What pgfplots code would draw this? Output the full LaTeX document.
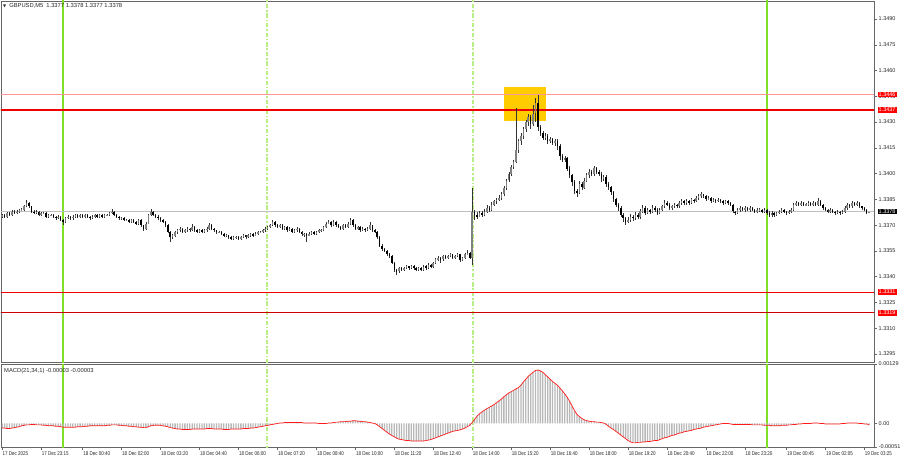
\documentclass[border=0pt]{standalone}
\usepackage{fontspec}
\setmainfont{Liberation Sans}
\newfontfamily\symf{DejaVu Sans}
\newfontfamily\narrowf[FakeStretch=0.82]{Liberation Sans}
\usepackage{pgfplots}
\usepackage{pgfplotstable}
\pgfplotsset{compat=1.18}
\definecolor{lg}{RGB}{128,224,40}
\definecolor{lgd}{RGB}{185,238,130}
\definecolor{goldbox}{RGB}{255,204,0}
\definecolor{pinkl}{RGB}{255,150,150}
\definecolor{lvlred}{RGB}{240,0,0}
\tikzset{dashg/.style={draw=lgd, line width=1.5pt, dash pattern=on 4.5pt off 1.8pt on 1.5pt off 1.8pt}}

\pgfplotstableread{
x o h l c
-25 1.3375 1.33768 1.33742 1.3376
-24 1.3376 1.33768 1.33744 1.3375
-23 1.3375 1.33778 1.33745 1.3377
-22 1.3377 1.33775 1.33752 1.3376
-21 1.3376 1.33788 1.33755 1.3378
-20 1.3378 1.33786 1.33763 1.3377
-19 1.3377 1.33788 1.33764 1.3378
-18 1.3378 1.33796 1.33774 1.3379
-17 1.3379 1.33798 1.33781 1.3379
-16 1.3379 1.33818 1.33785 1.3381
-15 1.3381 1.33845 1.33805 1.3383
-14 1.3383 1.33836 1.33803 1.3381
-13 1.3381 1.33815 1.33772 1.3378
-12 1.3378 1.33786 1.33762 1.3377
-11 1.3377 1.33788 1.33764 1.3378
-10 1.3378 1.33785 1.33752 1.3376
-9 1.3376 1.33778 1.33755 1.3377
-8 1.3377 1.33776 1.33763 1.3377
-7 1.3377 1.33775 1.33742 1.3375
-6 1.3375 1.33768 1.33744 1.3376
-5 1.3376 1.33766 1.33753 1.3376
-4 1.3376 1.33765 1.33743 1.3375
-3 1.3375 1.33756 1.33732 1.3374
-2 1.3374 1.33758 1.33735 1.3375
-1 1.3375 1.33756 1.33722 1.3373
0 1.3373 1.33735 1.33700 1.3372
1 1.3372 1.33748 1.33715 1.3374
2 1.3374 1.33758 1.33735 1.3375
3 1.3375 1.33756 1.33732 1.3374
4 1.3374 1.33758 1.33733 1.3375
5 1.3375 1.33768 1.33744 1.3376
6 1.3376 1.33765 1.33742 1.3375
7 1.3375 1.33768 1.33745 1.3376
8 1.3376 1.33766 1.33743 1.3375
9 1.3375 1.33767 1.33744 1.3376
10 1.3376 1.33765 1.33742 1.3375
11 1.3375 1.33756 1.33733 1.3374
12 1.3374 1.33758 1.33734 1.3375
13 1.3375 1.33768 1.33745 1.3376
14 1.3376 1.33766 1.33742 1.3375
15 1.3375 1.33768 1.33744 1.3376
16 1.3376 1.33765 1.33743 1.3375
17 1.3375 1.33767 1.33744 1.3376
18 1.3376 1.33768 1.33753 1.3376
19 1.3376 1.33778 1.33755 1.3377
20 1.3377 1.33792 1.33764 1.3378
21 1.3378 1.33785 1.33752 1.3376
22 1.3376 1.33766 1.33742 1.3375
23 1.3375 1.33756 1.33732 1.3374
24 1.3374 1.33748 1.33733 1.3374
25 1.3374 1.33745 1.33722 1.3373
26 1.3373 1.33738 1.33724 1.3373
27 1.3373 1.33736 1.33712 1.3372
28 1.3372 1.33738 1.33714 1.3373
29 1.3373 1.33735 1.33712 1.3372
30 1.3372 1.33726 1.33702 1.3371
31 1.3371 1.33738 1.33705 1.3373
32 1.3373 1.33735 1.33692 1.3370
33 1.3370 1.33705 1.33668 1.3368
34 1.3368 1.33718 1.33675 1.3371
35 1.3371 1.33768 1.33705 1.3376
36 1.3376 1.33795 1.33755 1.3378
37 1.3378 1.33785 1.33752 1.3376
38 1.3376 1.33765 1.33742 1.3375
39 1.3375 1.33758 1.33732 1.3374
40 1.3374 1.33746 1.33722 1.3373
41 1.3373 1.33738 1.33712 1.3372
42 1.3372 1.33725 1.33692 1.3370
43 1.3370 1.33705 1.33652 1.3366
44 1.3366 1.33668 1.33605 1.3363
45 1.3363 1.33648 1.33622 1.3364
46 1.3364 1.33668 1.33634 1.3366
47 1.3366 1.33678 1.33652 1.3367
48 1.3367 1.33688 1.33663 1.3368
49 1.3368 1.33686 1.33652 1.3366
50 1.3366 1.33678 1.33653 1.3367
51 1.3367 1.33688 1.33662 1.3368
52 1.3368 1.33685 1.33662 1.3367
53 1.3367 1.33705 1.33664 1.3369
54 1.3369 1.33695 1.33663 1.3367
55 1.3367 1.33676 1.33652 1.3366
56 1.3366 1.33678 1.33655 1.3367
57 1.3367 1.33676 1.33652 1.3366
58 1.3366 1.33678 1.33654 1.3367
59 1.3367 1.33688 1.33663 1.3368
60 1.3368 1.33712 1.33674 1.3370
61 1.3370 1.33705 1.33673 1.3368
62 1.3368 1.33686 1.33662 1.3367
63 1.3367 1.33675 1.33652 1.3366
64 1.3366 1.33668 1.33653 1.3366
65 1.3366 1.33666 1.33642 1.3365
66 1.3365 1.33656 1.33632 1.3364
67 1.3364 1.33648 1.33633 1.3364
68 1.3364 1.33645 1.33622 1.3363
69 1.3363 1.33636 1.33612 1.3362
70 1.3362 1.33638 1.33614 1.3363
71 1.3363 1.33638 1.33622 1.3363
72 1.3363 1.33636 1.33612 1.3362
73 1.3362 1.33638 1.33614 1.3363
74 1.3363 1.33648 1.33624 1.3364
75 1.3364 1.33645 1.33622 1.3363
76 1.3363 1.33648 1.33624 1.3364
77 1.3364 1.33658 1.33633 1.3365
78 1.3365 1.33656 1.33632 1.3364
79 1.3364 1.33658 1.33634 1.3365
80 1.3365 1.33668 1.33643 1.3366
81 1.3366 1.33668 1.33652 1.3366
82 1.3366 1.33678 1.33654 1.3367
83 1.3367 1.33688 1.33663 1.3368
84 1.3368 1.33698 1.33674 1.3369
85 1.3369 1.33708 1.33683 1.3370
86 1.3370 1.33728 1.33694 1.3372
87 1.3372 1.33725 1.33692 1.3370
88 1.3370 1.33706 1.33682 1.3369
89 1.3369 1.33708 1.33684 1.3370
90 1.3370 1.33705 1.33672 1.3368
91 1.3368 1.33698 1.33674 1.3369
92 1.3369 1.33695 1.33662 1.3367
93 1.3367 1.33688 1.33664 1.3368
94 1.3368 1.33686 1.33652 1.3366
95 1.3366 1.33678 1.33654 1.3367
96 1.3367 1.33688 1.33663 1.3368
97 1.3368 1.33685 1.33652 1.3366
98 1.3366 1.33665 1.33638 1.3365
99 1.3365 1.33658 1.33632 1.3365
100 1.3365 1.33655 1.33602 1.3364
101 1.3364 1.33658 1.33634 1.3365
102 1.3365 1.33668 1.33643 1.3366
103 1.3366 1.33665 1.33642 1.3365
104 1.3365 1.33668 1.33644 1.3366
105 1.3366 1.33678 1.33654 1.3367
106 1.3367 1.33678 1.33662 1.3367
107 1.3367 1.33698 1.33664 1.3369
108 1.3369 1.33718 1.33683 1.3371
109 1.3371 1.33728 1.33704 1.3372
110 1.3372 1.33725 1.33692 1.3370
111 1.3370 1.33728 1.33694 1.3372
112 1.3372 1.33725 1.33692 1.3370
113 1.3370 1.33705 1.33682 1.3369
114 1.3369 1.33695 1.33672 1.3368
115 1.3368 1.33708 1.33674 1.3370
116 1.3370 1.33705 1.33682 1.3369
117 1.3369 1.33718 1.33684 1.3371
118 1.3371 1.33742 1.33704 1.3373
119 1.3373 1.33735 1.33692 1.3370
120 1.3370 1.33706 1.33672 1.3368
121 1.3368 1.33698 1.33674 1.3369
122 1.3369 1.33695 1.33662 1.3367
123 1.3367 1.33688 1.33664 1.3368
124 1.3368 1.33686 1.33662 1.3367
125 1.3367 1.33688 1.33664 1.3368
126 1.3368 1.33718 1.33674 1.3370
127 1.3370 1.33705 1.33662 1.3367
128 1.3367 1.33676 1.33652 1.3366
129 1.3366 1.33665 1.33622 1.3363
130 1.3363 1.33636 1.33572 1.3358
131 1.3358 1.33588 1.33552 1.3356
132 1.3356 1.33568 1.33542 1.3355
133 1.3355 1.33556 1.33522 1.3353
134 1.3353 1.33538 1.33512 1.3352
135 1.3352 1.33525 1.33472 1.3348
136 1.3348 1.33485 1.33428 1.3344
137 1.3344 1.33448 1.33408 1.3343
138 1.3343 1.33458 1.33424 1.3345
139 1.3345 1.33456 1.33432 1.3344
140 1.3344 1.33458 1.33434 1.3345
141 1.3345 1.33468 1.33443 1.3346
142 1.3346 1.33465 1.33442 1.3345
143 1.3345 1.33468 1.33444 1.3346
144 1.3346 1.33466 1.33442 1.3345
145 1.3345 1.33456 1.33432 1.3344
146 1.3344 1.33458 1.33434 1.3345
147 1.3345 1.33456 1.33432 1.3344
148 1.3344 1.33468 1.33434 1.3346
149 1.3346 1.33466 1.33442 1.3345
150 1.3345 1.33478 1.33444 1.3347
151 1.3347 1.33475 1.33452 1.3346
152 1.3346 1.33488 1.33454 1.3348
153 1.3348 1.33508 1.33474 1.3350
154 1.3350 1.33518 1.33493 1.3351
155 1.3351 1.33515 1.33482 1.3350
156 1.3350 1.33528 1.33494 1.3352
157 1.3352 1.33525 1.33502 1.3351
158 1.3351 1.33528 1.33504 1.3352
159 1.3352 1.33538 1.33514 1.3353
160 1.3353 1.33535 1.33502 1.3351
161 1.3351 1.33528 1.33504 1.3352
162 1.3352 1.33538 1.33513 1.3353
163 1.3353 1.33535 1.33488 1.3350
164 1.3350 1.33518 1.33494 1.3351
165 1.3351 1.33538 1.33504 1.3353
166 1.3353 1.33555 1.33524 1.3354
167 1.3354 1.33545 1.33502 1.3351
168 1.3351 1.33920 1.33470 1.3378
169 1.3378 1.33790 1.33730 1.3376
170 1.3376 1.33775 1.33735 1.3375
171 1.3375 1.33785 1.33745 1.3377
172 1.3377 1.33780 1.33745 1.3376
173 1.3376 1.33795 1.33755 1.3378
174 1.3378 1.33815 1.33770 1.3380
175 1.3380 1.33810 1.33775 1.3379
176 1.3379 1.33835 1.33780 1.3382
177 1.3382 1.33850 1.33810 1.3384
178 1.3384 1.33860 1.33825 1.3385
179 1.3385 1.33875 1.33840 1.3386
180 1.3386 1.33895 1.33850 1.3388
181 1.3388 1.33930 1.33870 1.3392
182 1.3392 1.33970 1.33905 1.3396
183 1.3396 1.34010 1.33950 1.3400
184 1.3400 1.34050 1.33985 1.3404
185 1.3404 1.34080 1.34025 1.3407
186 1.3407 1.34385 1.34060 1.3414
187 1.3414 1.34200 1.34120 1.3419
188 1.3419 1.34235 1.34170 1.3422
189 1.3422 1.34270 1.34200 1.3426
190 1.3426 1.34310 1.34245 1.3430
191 1.3430 1.34345 1.34280 1.3433
192 1.3433 1.34340 1.34260 1.3429
193 1.3429 1.34400 1.34275 1.3435
194 1.3435 1.34440 1.34300 1.3441
195 1.3441 1.34460 1.34250 1.3427
196 1.3427 1.34285 1.34220 1.3424
197 1.3424 1.34250 1.34195 1.3421
198 1.3421 1.34235 1.34195 1.3422
199 1.3422 1.34230 1.34175 1.3419
200 1.3419 1.34215 1.34180 1.3420
201 1.3420 1.34210 1.34165 1.3418
202 1.3418 1.34205 1.34160 1.3419
203 1.3419 1.34200 1.34140 1.3416
204 1.3416 1.34170 1.34080 1.3410
205 1.3410 1.34115 1.34065 1.3408
206 1.3408 1.34105 1.34070 1.3409
207 1.3409 1.34095 1.34015 1.3403
208 1.3403 1.34045 1.33975 1.3399
209 1.3399 1.34000 1.33930 1.3395
210 1.3395 1.33965 1.33880 1.3390
211 1.3390 1.33910 1.33865 1.3389
212 1.3389 1.33955 1.33880 1.3394
213 1.3394 1.33950 1.33905 1.3392
214 1.3392 1.33975 1.33910 1.3396
215 1.3396 1.34005 1.33950 1.3399
216 1.3399 1.34025 1.33975 1.3401
217 1.3401 1.34020 1.33985 1.3400
218 1.3400 1.34045 1.33990 1.3403
219 1.3403 1.34040 1.34000 1.3401
220 1.3401 1.34020 1.33985 1.3400
221 1.3400 1.34010 1.33955 1.3397
222 1.3397 1.33995 1.33960 1.3398
223 1.3398 1.33990 1.33925 1.3394
224 1.3394 1.33950 1.33905 1.3392
225 1.3392 1.33930 1.33875 1.3389
226 1.3389 1.33900 1.33835 1.3385
227 1.3385 1.33860 1.33805 1.3382
228 1.3382 1.33830 1.33785 1.3380
229 1.3380 1.33810 1.33745 1.3376
230 1.3376 1.33770 1.33720 1.3374
231 1.3374 1.33750 1.33700 1.3372
232 1.3372 1.33745 1.33710 1.3373
233 1.3373 1.33765 1.33720 1.3375
234 1.3375 1.33760 1.33725 1.3374
235 1.3374 1.33775 1.33730 1.3376
236 1.3376 1.33770 1.33735 1.3375
237 1.3375 1.33795 1.33740 1.3378
238 1.3378 1.33815 1.33770 1.3380
239 1.3380 1.33810 1.33760 1.3377
240 1.3377 1.33800 1.33765 1.3379
241 1.3379 1.33795 1.33765 1.3378
242 1.3378 1.33815 1.33770 1.3380
243 1.3380 1.33810 1.33780 1.3379
244 1.3379 1.33800 1.33760 1.3377
245 1.3377 1.33800 1.33765 1.3379
246 1.3379 1.33820 1.33780 1.3381
247 1.3381 1.33845 1.33800 1.3383
248 1.3383 1.33840 1.33810 1.3382
249 1.3382 1.33830 1.33790 1.3380
250 1.3380 1.33820 1.33790 1.3381
251 1.3381 1.33830 1.33800 1.3382
252 1.3382 1.33825 1.33800 1.3381
253 1.3381 1.33840 1.33800 1.3383
254 1.3383 1.33850 1.33820 1.3384
255 1.3384 1.33845 1.33820 1.3383
256 1.3383 1.33850 1.33820 1.3384
257 1.3384 1.33845 1.33820 1.3383
258 1.3383 1.33860 1.33825 1.3385
259 1.3385 1.33855 1.33830 1.3384
260 1.3384 1.33870 1.33835 1.3386
261 1.3386 1.33880 1.33850 1.3387
262 1.3387 1.33890 1.33860 1.3388
263 1.3388 1.33885 1.33860 1.3387
264 1.3387 1.33875 1.33840 1.3385
265 1.3385 1.33870 1.33845 1.3386
266 1.3386 1.33865 1.33830 1.3384
267 1.3384 1.33860 1.33835 1.3385
268 1.3385 1.33855 1.33830 1.3384
269 1.3384 1.33860 1.33835 1.3385
270 1.3385 1.33855 1.33830 1.3384
271 1.3384 1.33845 1.33820 1.3383
272 1.3383 1.33850 1.33825 1.3384
273 1.3384 1.33845 1.33820 1.3383
274 1.3383 1.33835 1.33810 1.3382
275 1.3382 1.33825 1.33770 1.3378
276 1.3378 1.33785 1.33760 1.3377
277 1.3377 1.33800 1.33765 1.3379
278 1.3379 1.33810 1.33780 1.3380
279 1.3380 1.33805 1.33780 1.3379
280 1.3379 1.33810 1.33780 1.3380
281 1.3380 1.33805 1.33780 1.3379
282 1.3379 1.33810 1.33780 1.3380
283 1.3380 1.33805 1.33780 1.3379
284 1.3379 1.33795 1.33770 1.3378
285 1.3378 1.33800 1.33770 1.3379
286 1.3379 1.33800 1.33780 1.3379
287 1.3379 1.33795 1.33770 1.3378
288 1.3378 1.33800 1.33770 1.3379
289 1.3379 1.33795 1.33760 1.3377
290 1.3377 1.33780 1.33750 1.3376
291 1.3376 1.33780 1.33750 1.3377
292 1.3377 1.33775 1.33750 1.3376
293 1.3376 1.33780 1.33755 1.3377
294 1.3377 1.33790 1.33765 1.3378
295 1.3378 1.33800 1.33770 1.3379
296 1.3379 1.33795 1.33770 1.3378
297 1.3378 1.33785 1.33760 1.3377
298 1.3377 1.33790 1.33765 1.3378
299 1.3378 1.33800 1.33770 1.3379
300 1.3379 1.33830 1.33785 1.3382
301 1.3382 1.33840 1.33810 1.3383
302 1.3383 1.33835 1.33810 1.3382
303 1.3382 1.33840 1.33810 1.3383
304 1.3383 1.33835 1.33810 1.3382
305 1.3382 1.33830 1.33810 1.3382
306 1.3382 1.33840 1.33810 1.3383
307 1.3383 1.33835 1.33810 1.3382
308 1.3382 1.33840 1.33810 1.3383
309 1.3383 1.33835 1.33810 1.3382
310 1.3382 1.33860 1.33815 1.3384
311 1.3384 1.33845 1.33810 1.3382
312 1.3382 1.33825 1.33790 1.3380
313 1.3380 1.33805 1.33780 1.3379
314 1.3379 1.33795 1.33770 1.3378
315 1.3378 1.33800 1.33770 1.3379
316 1.3379 1.33795 1.33770 1.3378
317 1.3378 1.33785 1.33760 1.3377
318 1.3377 1.33790 1.33765 1.3378
319 1.3378 1.33785 1.33760 1.3377
320 1.3377 1.33790 1.33765 1.3378
321 1.3378 1.33810 1.33770 1.3380
322 1.3380 1.33830 1.33790 1.3382
323 1.3382 1.33825 1.33800 1.3381
324 1.3381 1.33840 1.33800 1.3383
325 1.3383 1.33835 1.33810 1.3382
326 1.3382 1.33840 1.33810 1.3383
327 1.3383 1.33835 1.33800 1.3381
328 1.3381 1.33815 1.33790 1.3380
329 1.3380 1.33805 1.33780 1.3379
330 1.3379 1.33795 1.33765 1.3377
331 1.3377 1.33780 1.33770 1.3378
}\candles

\pgfplotstableread[row sep=\\]{
x m\\
-25 -0.00010\\ -24 -0.00010\\ -23 -0.00011\\ -22 -0.00011\\ -21 -0.00010\\ -20 -0.00009\\ -19 -0.00008\\ -18 -0.00007\\
-17 -0.00005\\ -16 -0.00004\\ -15 -0.00003\\ -14 -0.00003\\ -13 -0.00002\\ -12 -0.00002\\ -11 -0.00003\\ -10 -0.00003\\ -9 -0.00003\\ -8 -0.00004\\
-7 -0.00004\\ -6 -0.00005\\ -5 -0.00005\\ -4 -0.00005\\ -3 -0.00006\\ -2 -0.00006\\ -1 -0.00007\\ 0 -0.00008\\
1 -0.00008\\ 2 -0.00008\\ 3 -0.00008\\ 4 -0.00008\\ 5 -0.00008\\ 6 -0.00007\\ 7 -0.00007\\ 8 -0.00007\\ 9 -0.00006\\ 10 -0.00006\\
11 -0.00005\\ 12 -0.00005\\ 13 -0.00005\\ 14 -0.00005\\ 15 -0.00005\\ 16 -0.00005\\ 17 -0.00005\\ 18 -0.00004\\ 19 -0.00004\\ 20 -0.00003\\
21 -0.00003\\ 22 -0.00003\\ 23 -0.00004\\ 24 -0.00004\\ 25 -0.00005\\ 26 -0.00005\\ 27 -0.00006\\ 28 -0.00006\\ 29 -0.00007\\ 30 -0.00007\\
31 -0.00008\\ 32 -0.00008\\ 33 -0.00009\\ 34 -0.00009\\ 35 -0.00007\\ 36 -0.00005\\ 37 -0.00004\\ 38 -0.00004\\ 39 -0.00004\\ 40 -0.00004\\
41 -0.00005\\ 42 -0.00006\\ 43 -0.00007\\ 44 -0.00009\\ 45 -0.00010\\ 46 -0.00011\\ 47 -0.00012\\ 48 -0.00012\\ 49 -0.00013\\ 50 -0.00013\\
51 -0.00013\\ 52 -0.00013\\ 53 -0.00012\\ 54 -0.00012\\ 55 -0.00012\\ 56 -0.00012\\ 57 -0.00012\\ 58 -0.00012\\ 59 -0.00011\\ 60 -0.00011\\
61 -0.00011\\ 62 -0.00012\\ 63 -0.00012\\ 64 -0.00012\\ 65 -0.00012\\ 66 -0.00013\\ 67 -0.00013\\ 68 -0.00013\\ 69 -0.00012\\ 70 -0.00012\\
71 -0.00012\\ 72 -0.00012\\ 73 -0.00012\\ 74 -0.00011\\ 75 -0.00011\\ 76 -0.00011\\ 77 -0.00010\\ 78 -0.00010\\ 79 -0.00009\\ 80 -0.00008\\
81 -0.00007\\ 82 -0.00006\\ 83 -0.00005\\ 84 -0.00004\\ 85 -0.00003\\ 86 -0.00002\\ 87 -0.00001\\ 88 0.00000\\ 89 0.00001\\ 90 0.00001\\
91 0.00002\\ 92 0.00002\\ 93 0.00002\\ 94 0.00002\\ 95 0.00002\\ 96 0.00002\\ 97 0.00002\\ 98 0.00002\\ 99 0.00001\\ 100 0.00001\\
101 0.00001\\ 102 0.00001\\ 103 0.00001\\ 104 0.00001\\ 105 0.00000\\ 106 0.00000\\ 107 0.00000\\ 108 0.00000\\ 109 0.00001\\ 110 0.00001\\
111 0.00002\\ 112 0.00003\\ 113 0.00003\\ 114 0.00004\\ 115 0.00004\\ 116 0.00004\\ 117 0.00005\\ 118 0.00005\\ 119 0.00006\\ 120 0.00006\\
121 0.00005\\ 122 0.00005\\ 123 0.00004\\ 124 0.00004\\ 125 0.00003\\ 126 0.00002\\ 127 0.00001\\ 128 0.00000\\ 129 -0.00003\\ 130 -0.00007\\
131 -0.00011\\ 132 -0.00015\\ 133 -0.00019\\ 134 -0.00023\\ 135 -0.00026\\ 136 -0.00029\\ 137 -0.00032\\ 138 -0.00034\\ 139 -0.00035\\ 140 -0.00036\\
141 -0.00037\\ 142 -0.00037\\ 143 -0.00038\\ 144 -0.00038\\ 145 -0.00038\\ 146 -0.00038\\ 147 -0.00038\\ 148 -0.00038\\ 149 -0.00037\\ 150 -0.00036\\
151 -0.00035\\ 152 -0.00033\\ 153 -0.00031\\ 154 -0.00029\\ 155 -0.00027\\ 156 -0.00025\\ 157 -0.00023\\ 158 -0.00021\\ 159 -0.00019\\ 160 -0.00017\\
161 -0.00016\\ 162 -0.00015\\ 163 -0.00014\\ 164 -0.00012\\ 165 -0.00010\\ 166 -0.00007\\ 167 -0.00004\\ 168 0.00002\\ 169 0.00009\\ 170 0.00016\\
171 0.00021\\ 172 0.00025\\ 173 0.00029\\ 174 0.00032\\ 175 0.00035\\ 176 0.00038\\ 177 0.00041\\ 178 0.00045\\ 179 0.00049\\ 180 0.00053\\
181 0.00058\\ 182 0.00062\\ 183 0.00066\\ 184 0.00069\\ 185 0.00072\\ 186 0.00075\\ 187 0.00078\\ 188 0.00083\\ 189 0.00090\\ 190 0.00096\\
191 0.00102\\ 192 0.00107\\ 193 0.00111\\ 194 0.00115\\ 195 0.00116\\ 196 0.00114\\ 197 0.00111\\ 198 0.00106\\ 199 0.00101\\ 200 0.00096\\
201 0.00091\\ 202 0.00087\\ 203 0.00083\\ 204 0.00077\\ 205 0.00071\\ 206 0.00064\\ 207 0.00057\\ 208 0.00048\\ 209 0.00038\\ 210 0.00028\\
211 0.00020\\ 212 0.00015\\ 213 0.00011\\ 214 0.00008\\ 215 0.00006\\ 216 0.00005\\ 217 0.00004\\ 218 0.00004\\ 219 0.00003\\ 220 0.00003\\
221 0.00002\\ 222 0.00001\\ 223 -0.00002\\ 224 -0.00006\\ 225 -0.00010\\ 226 -0.00013\\ 227 -0.00017\\ 228 -0.00021\\ 229 -0.00025\\ 230 -0.00029\\
231 -0.00033\\ 232 -0.00037\\ 233 -0.00040\\ 234 -0.00042\\ 235 -0.00042\\ 236 -0.00041\\ 237 -0.00041\\ 238 -0.00040\\ 239 -0.00040\\ 240 -0.00039\\
241 -0.00039\\ 242 -0.00038\\ 243 -0.00037\\ 244 -0.00037\\ 245 -0.00035\\ 246 -0.00033\\ 247 -0.00031\\ 248 -0.00030\\ 249 -0.00028\\ 250 -0.00026\\
251 -0.00025\\ 252 -0.00023\\ 253 -0.00021\\ 254 -0.00020\\ 255 -0.00018\\ 256 -0.00017\\ 257 -0.00016\\ 258 -0.00015\\ 259 -0.00013\\ 260 -0.00012\\
261 -0.00011\\ 262 -0.00010\\ 263 -0.00008\\ 264 -0.00007\\ 265 -0.00006\\ 266 -0.00005\\ 267 -0.00004\\ 268 -0.00003\\ 269 -0.00002\\ 270 -0.00001\\
271 0.00000\\ 272 0.00000\\ 273 0.00000\\ 274 -0.00001\\ 275 -0.00002\\ 276 -0.00002\\ 277 -0.00002\\ 278 -0.00002\\ 279 -0.00002\\ 280 -0.00002\\
281 -0.00002\\ 282 -0.00002\\ 283 -0.00003\\ 284 -0.00003\\ 285 -0.00003\\ 286 -0.00003\\ 287 -0.00003\\ 288 -0.00004\\ 289 -0.00004\\ 290 -0.00004\\
291 -0.00005\\ 292 -0.00005\\ 293 -0.00005\\ 294 -0.00005\\ 295 -0.00004\\ 296 -0.00004\\ 297 -0.00004\\ 298 -0.00003\\ 299 -0.00003\\ 300 -0.00002\\
301 -0.00002\\ 302 -0.00001\\ 303 -0.00001\\ 304 0.00000\\ 305 0.00000\\ 306 0.00000\\ 307 0.00000\\ 308 0.00001\\ 309 0.00001\\ 310 0.00001\\
311 0.00000\\ 312 0.00000\\ 313 -0.00001\\ 314 -0.00001\\ 315 -0.00001\\ 316 -0.00001\\ 317 -0.00001\\ 318 -0.00001\\ 319 -0.00001\\ 320 0.00000\\
321 0.00000\\ 322 0.00001\\ 323 0.00001\\ 324 0.00001\\ 325 0.00001\\ 326 0.00001\\ 327 0.00000\\ 328 0.00000\\ 329 -0.00001\\ 330 -0.00001\\
331 -0.00003\\
}\macd

\newcommand{\tf}{\fontsize{5.5}{6}\selectfont}
\newcommand{\xf}{\narrowf\fontsize{5.5}{6}\selectfont}

\begin{document}
\begin{tikzpicture}
\path[use as bounding box] (0pt,0pt) rectangle (900pt,-460pt);
\pgfplotsset{
  mtstyle/.style={
    scale only axis, anchor=north west, width=873pt,
    xmin=-25.5, xmax=333,
    axis line style={black!60, line width=0.5pt},
    tick align=outside, major tick length=3pt,
    tick style={black!60, line width=0.4pt},
    ticklabel style={font=\tf, text=black!85},
    ytick pos=right, yticklabel pos=right,
    scaled y ticks=false,
    yticklabel style={anchor=west, inner xsep=1.5pt},
  },
}
\begin{axis}[mtstyle, at={(1pt,-1pt)}, height=361pt,
  ymin=1.32903, ymax=1.35005,
  xtick=\empty,
  ytick={1.3295,1.3310,1.3325,1.3340,1.3355,1.3370,1.3385,1.3400,1.3415,1.3430,1.3445,1.3460,1.3475,1.3490},
  yticklabel style={/pgf/number format/.cd, fixed, fixed zerofill, precision=4, assume math mode=true},
]
\fill[goldbox] (axis cs:181.1,1.34504) rectangle (axis cs:198.4,1.34306);
\draw[lg, line width=1.5pt] (axis cs:0,1.32) -- (axis cs:0,1.36);
\draw[lg, line width=1.5pt] (axis cs:289.1,1.32) -- (axis cs:289.1,1.36);
\draw[dashg] (axis cs:83.8,1.32) -- (axis cs:83.8,1.36);
\draw[dashg] (axis cs:168.4,1.32) -- (axis cs:168.4,1.36);
\draw[pinkl, line width=0.9pt] (axis cs:-30,1.3446) -- (axis cs:340,1.3446);
\draw[lvlred, line width=1.15pt] (axis cs:-30,1.3437) -- (axis cs:340,1.3437);
\draw[lvlred, line width=1.15pt] (axis cs:-30,1.3331) -- (axis cs:340,1.3331);
\draw[red!80!black, line width=0.7pt] (axis cs:-30,1.3319) -- (axis cs:340,1.3319);
\draw[black!25, line width=0.5pt] (axis cs:-30,1.3378) -- (axis cs:340,1.3378);
% wicks
\addplot[draw=none, mark=none, error bars/.cd, y dir=both, y explicit, error mark=none,
  error bar style={draw=black!80, solid, line width=0.45pt}]
  table[x=x, y expr={(\thisrow{h}+\thisrow{l})/2}, y error expr={(\thisrow{h}-\thisrow{l})/2}] {\candles};
% bull bodies
\addplot[draw=none, mark=none, restrict expr to domain={\thisrow{c}-\thisrow{o}}{0:1},
  error bars/.cd, y dir=both, y explicit, error mark=none,
  error bar style={draw=black!50, solid, line width=1.5pt}]
  table[x=x, y expr={(\thisrow{o}+\thisrow{c})/2}, y error expr={max(abs(\thisrow{c}-\thisrow{o})/2,0.00002)}] {\candles};
% bear bodies
\addplot[draw=none, mark=none, restrict expr to domain={\thisrow{c}-\thisrow{o}}{-1:-0.000001},
  error bars/.cd, y dir=both, y explicit, error mark=none,
  error bar style={draw=black, solid, line width=1.5pt}]
  table[x=x, y expr={(\thisrow{o}+\thisrow{c})/2}, y error expr={max(abs(\thisrow{c}-\thisrow{o})/2,0.00002)}] {\candles};
\coordinate (Pa) at (axis cs:333,1.3446);
\coordinate (Pb) at (axis cs:333,1.3437);
\coordinate (Pc) at (axis cs:333,1.3378);
\coordinate (Pd) at (axis cs:333,1.3331);
\coordinate (Pe) at (axis cs:333,1.3319);
\end{axis}

\begin{axis}[mtstyle, at={(1pt,-364pt)}, height=83pt,
  ymin=-0.00051, ymax=0.00129,
  ytick={-0.00051,0,0.00129}, yticklabels={-0.00051,0.00,0.00129},
  xtick pos=left,
  xtick={-25.1,-9,8,24,40,56,72,88,104,120,136,152,168,184,200,216,232,248,264,280,297,313,329},
  xticklabels={17 Dec 2025,17 Dec 23:15,18 Dec 00:40,18 Dec 02:00,18 Dec 03:20,18 Dec 04:40,18 Dec 06:00,18 Dec 07:20,18 Dec 08:40,18 Dec 10:00,18 Dec 11:20,18 Dec 12:40,18 Dec 14:00,18 Dec 15:20,18 Dec 16:40,18 Dec 18:00,18 Dec 19:20,18 Dec 20:40,18 Dec 22:00,18 Dec 23:20,19 Dec 00:45,19 Dec 02:05,19 Dec 03:25},
  xticklabel style={anchor=north west, inner xsep=0.5pt, inner ysep=1pt, font=\xf},
]
\draw[lg, line width=1.5pt] (axis cs:0,-0.001) -- (axis cs:0,0.002);
\draw[lg, line width=1.5pt] (axis cs:289.1,-0.001) -- (axis cs:289.1,0.002);
\draw[dashg] (axis cs:83.8,-0.001) -- (axis cs:83.8,0.002);
\draw[dashg] (axis cs:168.4,-0.001) -- (axis cs:168.4,0.002);
\addplot[ybar, bar width=1.3pt, fill=black!28, draw=none] table[x=x, y=m] {\macd};
\addplot[red!90, line width=0.7pt, mark=none] table[x=x, y=m] {\macd};
\end{axis}

\foreach \p/\t/\c in {Pa/1.3446/red, Pb/1.3437/red, Pc/1.3378/black, Pd/1.3331/red, Pe/1.3319/red}{
  \node[fill=\c, text=white, anchor=west, inner xsep=1pt, inner ysep=0.9pt, font=\tf] at ([xshift=3.5pt]\p) {\t};
}
\node[anchor=west, inner sep=0pt, font=\fontsize{5.8}{6.5}\selectfont, text=black!85] at (3pt,-6pt)
  {{\symf\fontsize{4}{5}\selectfont ▼}\hspace{3pt}GBPUSD,M5\hspace{3pt}1.3377 1.3378 1.3377 1.3378};
\node[anchor=west, inner sep=0pt, font=\fontsize{5.8}{6.5}\selectfont, text=black!85] at (4pt,-370.5pt)
  {MACD(21,34,1) -0.00003 -0.00003};
\end{tikzpicture}
\end{document}
